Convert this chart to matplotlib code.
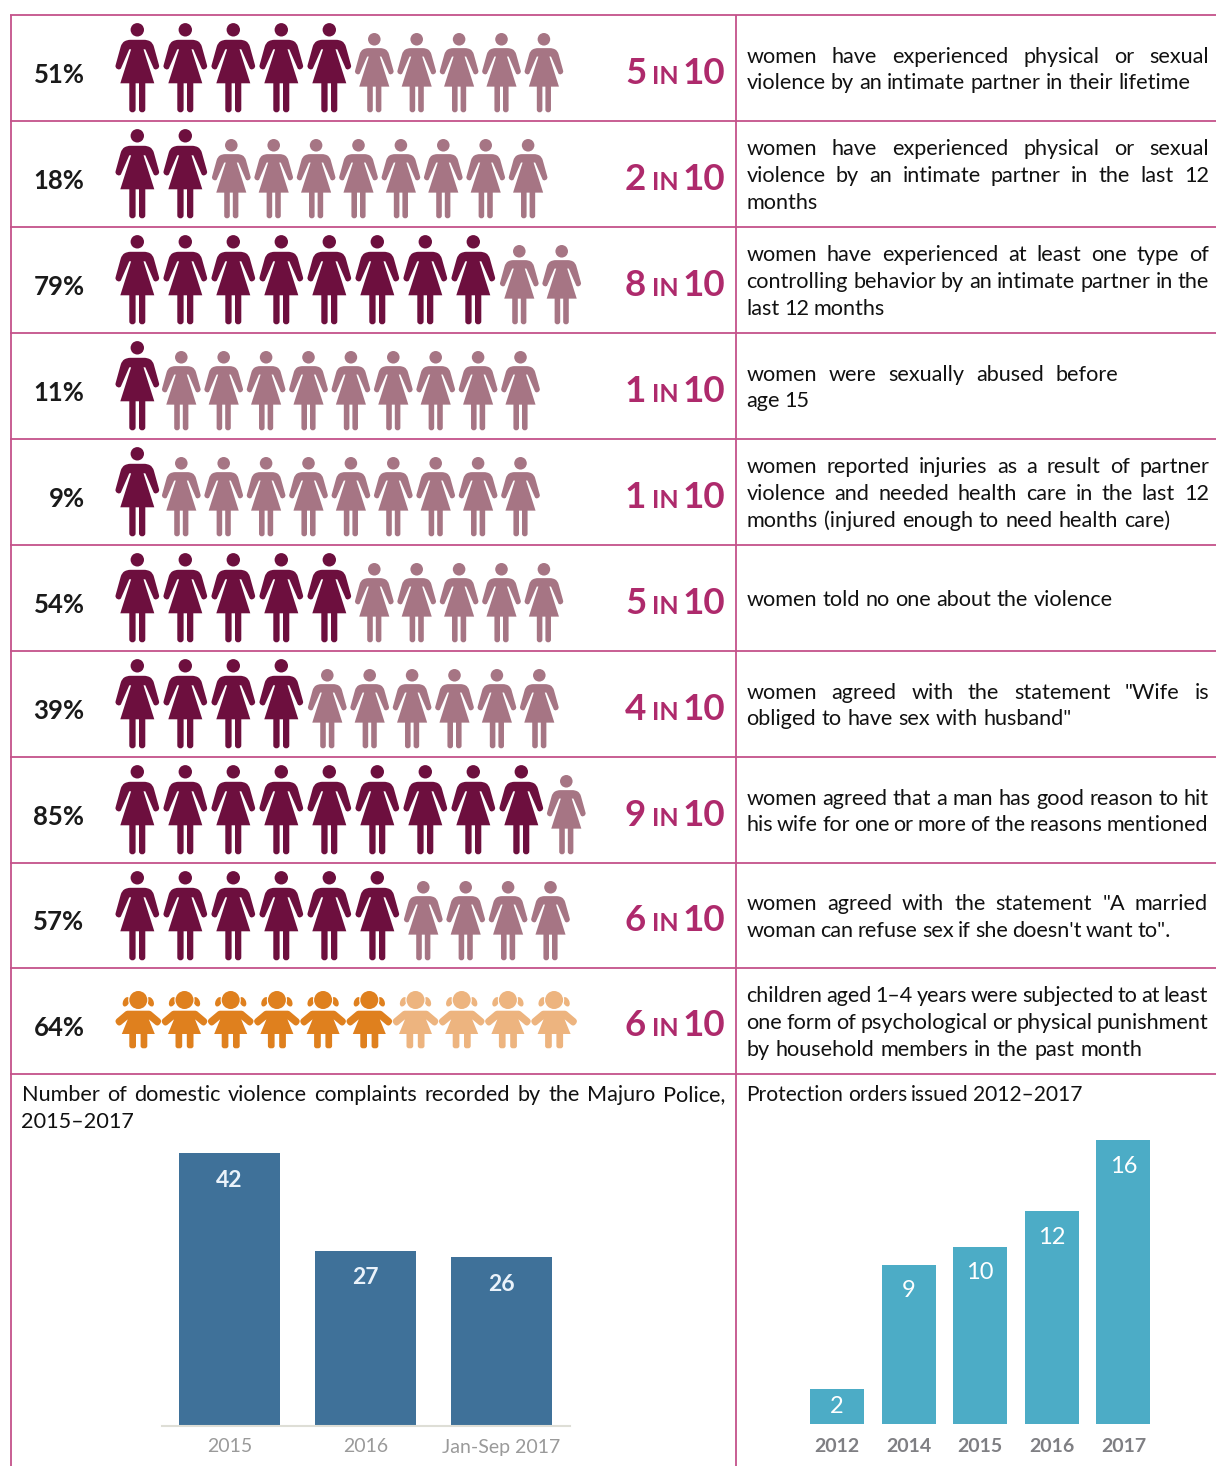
import matplotlib
matplotlib.use("Agg")
import matplotlib.pyplot as plt
from matplotlib.path import Path
from matplotlib.patches import PathPatch, Circle, Ellipse

percent_labels = ["51%", "18%", "79%", "11%", "9%", "54%", "39%", "85%", "57%", "64%"]
in_ten = [5, 2, 8, 1, 1, 5, 4, 9, 6, 6]
descriptions = [
    ["women have experienced physical or sexual", "violence by an intimate partner in their lifetime"],
    ["women have experienced physical or sexual", "violence by an intimate partner in the last 12", "months"],
    ["women have experienced at least one type of", "controlling behavior by an intimate partner in the", "last 12 months"],
    ["women were sexually abused before", "age 15"],
    ["women reported injuries as a result of partner", "violence and needed health care in the last 12", "months (injured enough to need health care)"],
    ["women told no one about the violence"],
    ["women agreed with the statement \"Wife is", "obliged to have sex with husband\""],
    ["women agreed that a man has good reason to hit", "his wife for one or more of the reasons mentioned"],
    ["women agreed with the statement \"A married", "woman can refuse sex if she doesn't want to\"."],
    ["children aged 1–4 years were subjected to at least", "one form of psychological or physical punishment", "by household members in the past month"],
]
police_years = ["2015", "2016", "Jan-Sep 2017"]
police_complaints = [42, 27, 26]
order_years = ["2012", "2014", "2015", "2016", "2017"]
orders_issued = [2, 9, 10, 12, 16]
police_title = ["Number of domestic violence complaints recorded by the Majuro Police,", "2015–2017"]
orders_title = "Protection orders issued 2012–2017"

# layout (pixels)
W, H = 1216, 1466
row_lines = [15, 121, 227, 333, 439, 545, 651, 757, 863, 968, 1074]
line_right = [
    [1209, 1190], [1209, 1209, 820], [1209, 1209, 885], [1118, 809], [1209, 1209, 1170],
    [1113], [1209, 1072], [1209, 1208], [1208, 1171], [1208, 1208, 1142],
]
light_offset = [45, 46, 46, 44, 44, 45, 46, 45, 46]
RULE = "#C4528A"
DARK, LIGHT = "#6D0F3E", "#A67584"
CHILD, CHILD_L = "#DF801E", "#EDB47F"
MAGENTA = "#AE2A6C"
FONT = "Lato"
plt.rcParams["font.family"] = [FONT, "DejaVu Sans"]

fig = plt.figure(figsize=(W / 100, H / 100), dpi=100, facecolor="white")
ax = fig.add_axes([0, 0, 1, 1])
ax.set_xlim(0, W)
ax.set_ylim(H, 0)
ax.axis("off")
renderer = fig.canvas.get_renderer()


def rounded(points, radii):
    verts, codes = [], []
    n = len(points)
    for i, (p, r) in enumerate(zip(points, radii)):
        a, b = points[i - 1], points[(i + 1) % n]
        def toward(q):
            dx, dy = q[0] - p[0], q[1] - p[1]
            d = (dx * dx + dy * dy) ** 0.5
            t = min(r / d, 0.5) if d else 0
            return (p[0] + dx * t, p[1] + dy * t)
        s, e = toward(a), toward(b)
        verts.append(s)
        codes.append(Path.MOVETO if i == 0 else Path.LINETO)
        verts += [p, e]
        codes += [Path.CURVE3, Path.CURVE3]
    verts.append(verts[0])
    codes.append(Path.CLOSEPOLY)
    return verts, codes


def add_shape(points, radii, cx, feet, k, color):
    v, c = rounded(points, radii)
    v = [(cx + x * k, feet - y * k) for x, y in v]
    ax.add_patch(PathPatch(Path(v, c), fc=color, ec="none", lw=0))


def leg(x0, x1, y_top, r):
    return [(x0, y_top), (x1, y_top), (x1, 0), (x0, 0)], [0, 0, r, r]


def woman(cx, feet, k, color):
    ax.add_patch(Circle((cx, feet - 82.5 * k), 6.7 * k + (0.35 if k < 1 else 0), fc=color, ec="none"))
    pts = [(-10, 72.5), (10, 72.5), (15.5, 69.5), (22.4, 44.6), (17.2, 42), (8, 63), (6.2, 63), (17, 29),
           (-17, 29), (-6.2, 63), (-8, 63), (-17.2, 42), (-22.4, 44.6), (-15.5, 69.5)]
    rad = [3, 3, 4, 2.5, 2.5, 0.3, 0, 0, 0, 0, 0.3, 2.5, 2.5, 4]
    add_shape(pts, rad, cx, feet, k, color)
    for x0, x1 in ((-8, -1.7), (1.7, 8)):
        p, r = leg(x0, x1, 30, 3)
        add_shape(p, r, cx, feet, k, color)


def child(cx, feet, color):
    for sx in (-1, 1):
        ax.add_patch(Ellipse((cx + sx * 12.2, feet - 46.5), 6, 10, angle=sx * -25, fc=color, ec="none"))
    ax.add_patch(Circle((cx, feet - 48.3), 10.1, fc="white", ec="none"))
    ax.add_patch(Circle((cx, feet - 48.3), 9, fc=color, ec="none"))
    pts = [(-12, 37.6), (12, 37.6), (24, 27.5), (19.5, 21.5), (10.5, 29), (16.5, 14.3),
           (-16.5, 14.3), (-10.5, 29), (-19.5, 21.5), (-24, 27.5)]
    rad = [1.5, 1.5, 3.5, 3.5, 0.2, 0, 0, 0.2, 3.5, 3.5]
    add_shape(pts, rad, cx, feet, 1, color)
    for x0, x1 in ((-9, -2.3), (2.3, 9)):
        p, r = leg(x0, x1, 15, 2.5)
        add_shape(p, r, cx, feet, 1, color)


def place_line(text, x, right, base, size, color="#111111"):
    words = text.split(" ")
    ts = [ax.text(x, base, w, fontsize=size, color=color, va="baseline", ha="left") for w in words]
    widths = [t.get_window_extent(renderer).width for t in ts]
    if len(words) > 1:
        min_gap = 4.0
        gap = (right - x - sum(widths)) / (len(words) - 1)
        if gap < min_gap:
            scale = (right - x - min_gap * (len(words) - 1)) / sum(widths)
            for t in ts:
                t.set_fontsize(size * scale)
            widths = [w * scale for w in widths]
            gap = min_gap
    else:
        gap = 0
    pos = x
    for t, w in zip(ts, widths):
        t.set_x(pos)
        pos += w + gap


# rules
ax.plot([10.5, 10.5], [row_lines[0], H], color=RULE, lw=1.3, solid_capstyle="butt")
ax.plot([736, 736], [row_lines[0], H], color=RULE, lw=1.3, solid_capstyle="butt")
for y in row_lines:
    ax.plot([10, W], [y, y], color=RULE, lw=1.3, solid_capstyle="butt")

BODY = 15.6
for i, (pct, n, lines, rights) in enumerate(zip(percent_labels, in_ten, descriptions, line_right)):
    top, bottom = row_lines[i], row_lines[i + 1]
    mid = (top + bottom) / 2
    ax.text(84.5, mid + 15, pct, ha="right", va="baseline", fontsize=18.5, fontweight="bold", color="#1a1a1a")
    ax.text(625, mid + 15.5, str(n), ha="left", va="baseline", fontsize=26.5, fontweight="bold", color=MAGENTA)
    ax.text(665, mid + 15.5, "IN", ha="center", va="baseline", fontsize=18, fontweight="bold", color=MAGENTA)
    ax.text(725.5, mid + 15.5, "10", ha="right", va="baseline", fontsize=26.5, fontweight="bold", color=MAGENTA)
    for j, (ln, r) in enumerate(zip(lines, rights)):
        base = mid + 1 + (j - (len(lines) - 1) / 2) * 26.6 + 7
        place_line(ln, 746.5, r, base, BODY)
    feet = top + 97.3
    if i == len(in_ten) - 1:
        for k in range(10):
            child(138.3 + 46.2 * k, bottom - 25.7, CHILD if k < n else CHILD_L)
    else:
        x = 137.3
        for k in range(n):
            woman(x, feet, 1.0, DARK)
            x += 48.0
        x += light_offset[i] - 48.0
        for k in range(10 - n):
            woman(x, feet, 0.885, LIGHT)
            x += 42.4

# titles
place_line(police_title[0], 21.5, 725, 1101, BODY)
place_line(police_title[1], 21.5, 125, 1128, BODY)
place_line(orders_title, 746.5, 1083, 1101, BODY)


def px_axes(x0, x1, y_top, y_bottom):
    a = fig.add_axes([x0 / W, 1 - y_bottom / H, (x1 - x0) / W, (y_bottom - y_top) / H])
    a.patch.set_alpha(0)
    for s in a.spines.values():
        s.set_visible(False)
    a.set_yticks([])
    return a


# police complaints chart
a1 = px_axes(161.5, 569.5, 1153, 1426)
a1.bar(range(len(police_years)), police_complaints, width=0.743, color="#3F7199")
a1.set_xlim(-0.5, 2.5)
a1.set_ylim(0, 42)
a1.spines["bottom"].set_visible(True)
a1.spines["bottom"].set_color("#DEDED6")
a1.spines["bottom"].set_linewidth(1.5)
a1.set_xticks(range(len(police_years)), police_years, fontsize=14, color="#9A9A9A")
a1.tick_params(axis="x", length=0, pad=9)
for i, v in enumerate(police_complaints):
    a1.annotate(str(v), (i, v), xytext=(0, -19.5), textcoords="offset points", ha="center", va="center",
                color="#EAF2FA", fontsize=16.5, fontweight="bold")

# protection orders chart
a2 = px_axes(801.2, 1159.2, 1140.3, 1424.3)
a2.bar(range(len(order_years)), orders_issued, width=0.754, color="#4CACC6")
a2.set_xlim(-0.5, 4.5)
a2.set_ylim(0, 16)
a2.set_xticks(range(len(order_years)), order_years, fontsize=14, fontweight="bold", color="#7F7F83")
a2.tick_params(axis="x", length=0, pad=10)
for i, v in enumerate(orders_issued):
    label_y = max(v - 1.45, v / 2)
    a2.text(i, label_y, str(v), ha="center", va="center", color="white", fontsize=17)

fig.savefig("out.png", dpi=100, facecolor="white")
